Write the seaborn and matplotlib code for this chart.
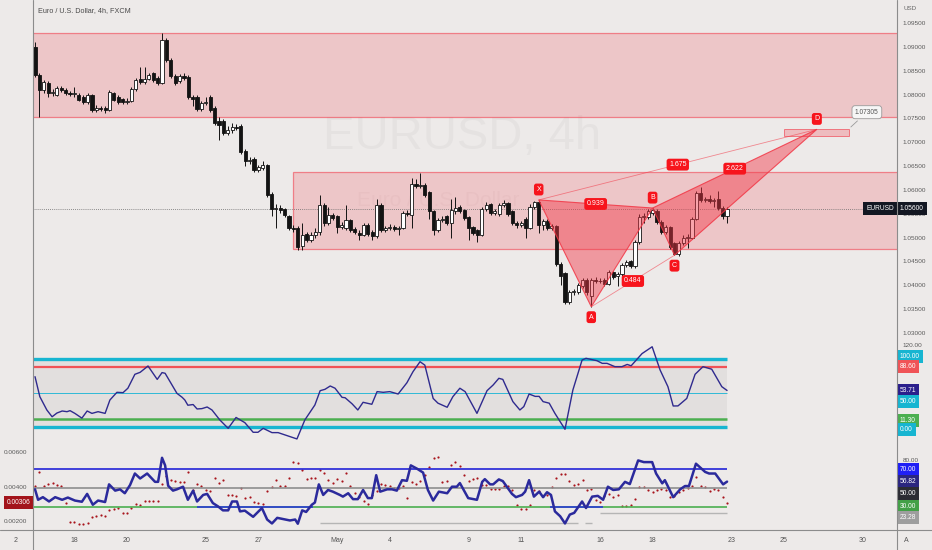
import numpy as np
import seaborn as sns
import matplotlib.pyplot as plt
from matplotlib.patches import Rectangle, Polygon
from matplotlib.lines import Line2D
from matplotlib.ticker import FormatStrFormatter

# EURUSD 4h candles, bar by bar
opens = [1.0900, 1.0841, 1.0810, 1.0824, 1.0803, 1.0800, 1.0814, 1.0810, 1.0803, 1.0801,
         1.0800, 1.0795, 1.0784, 1.0799, 1.0768, 1.0772, 1.0772, 1.0768, 1.0803, 1.0795,
         1.0790, 1.0784, 1.0787, 1.0812, 1.0832, 1.0826, 1.0833, 1.0845, 1.0834, 1.0824,
         1.0914, 1.0872, 1.0838, 1.0828, 1.0838, 1.0836, 1.0795, 1.0795, 1.0770, 1.0782,
         1.0795, 1.0772, 1.0745, 1.0745, 1.0720, 1.0725, 1.0732, 1.0735, 1.0682, 1.0660,
         1.0665, 1.0642, 1.0645, 1.0652, 1.0592, 1.0560, 1.0562, 1.0560, 1.0545, 1.0520,
         1.0520, 1.0482, 1.0508, 1.0494, 1.0505, 1.0512, 1.0568, 1.0530, 1.0548, 1.0545,
         1.0522, 1.0520, 1.0537, 1.0518, 1.0510, 1.0506, 1.0526, 1.0512, 1.0503, 1.0568,
         1.0516, 1.0520, 1.0522, 1.0518, 1.0520, 1.0552, 1.0548, 1.0612, 1.0608, 1.0610,
         1.0595, 1.0555, 1.0516, 1.0537, 1.0545, 1.0530, 1.0555, 1.0565, 1.0558, 1.0543,
         1.0522, 1.0515, 1.0506, 1.0560, 1.0570, 1.0552, 1.0550, 1.0568, 1.0572, 1.0555,
         1.0530, 1.0526, 1.0540, 1.0520, 1.0565, 1.0574, 1.0527, 1.0535, 1.0520, 1.0524,
         1.0445, 1.0425, 1.0365, 1.0385, 1.0386, 1.0398, 1.0412, 1.0378, 1.0411, 1.0408,
         1.0412, 1.0402, 1.0428, 1.0420, 1.0424, 1.0442, 1.0450, 1.0440, 1.0490, 1.0543,
         1.0543, 1.0552, 1.0556, 1.0533, 1.0512, 1.0522, 1.0488, 1.0465, 1.0488, 1.0500,
         1.0500, 1.0540, 1.0593, 1.0579, 1.0580, 1.0577, 1.0580, 1.0562, 1.0546]
closes = [1.0841, 1.0810, 1.0826, 1.0803, 1.0806, 1.0814, 1.0810, 1.0803, 1.0801, 1.0803,
          1.0789, 1.0784, 1.0799, 1.0768, 1.0772, 1.0770, 1.0768, 1.0805, 1.0789, 1.0784,
          1.0784, 1.0787, 1.0812, 1.0830, 1.0826, 1.0833, 1.0841, 1.0830, 1.0824, 1.0914,
          1.0872, 1.0838, 1.0825, 1.0838, 1.0834, 1.0795, 1.0790, 1.0770, 1.0782, 1.0785,
          1.0768, 1.0740, 1.0737, 1.0720, 1.0725, 1.0732, 1.0730, 1.0680, 1.0660, 1.0663,
          1.0642, 1.0647, 1.0652, 1.0590, 1.0560, 1.0562, 1.0558, 1.0547, 1.0520, 1.0518,
          1.0480, 1.0505, 1.0494, 1.0506, 1.0512, 1.0568, 1.0530, 1.0548, 1.0541, 1.0522,
          1.0526, 1.0537, 1.0516, 1.0512, 1.0506, 1.0526, 1.0508, 1.0503, 1.0568, 1.0516,
          1.0520, 1.0522, 1.0518, 1.0520, 1.0552, 1.0550, 1.0612, 1.0608, 1.0610, 1.0590,
          1.0555, 1.0516, 1.0537, 1.0540, 1.0530, 1.0558, 1.0562, 1.0555, 1.0541, 1.0520,
          1.0510, 1.0506, 1.0560, 1.0568, 1.0552, 1.0555, 1.0568, 1.0572, 1.0550, 1.0530,
          1.0526, 1.0530, 1.0520, 1.0565, 1.0574, 1.0527, 1.0535, 1.0520, 1.0524, 1.0445,
          1.0420, 1.0365, 1.0385, 1.0388, 1.0400, 1.0412, 1.0385, 1.0411, 1.0408, 1.0410,
          1.0402, 1.0428, 1.0418, 1.0424, 1.0442, 1.0448, 1.0440, 1.0490, 1.0543, 1.0545,
          1.0556, 1.0558, 1.0533, 1.0512, 1.0522, 1.0480, 1.0465, 1.0488, 1.0500, 1.0502,
          1.0540, 1.0593, 1.0579, 1.0580, 1.0577, 1.0578, 1.0562, 1.0546, 1.0560]
highs = [1.0910, 1.0845, 1.0830, 1.0828, 1.0812, 1.0818, 1.0818, 1.0813, 1.0808, 1.0815,
         1.0804, 1.0800, 1.0803, 1.0801, 1.0778, 1.0776, 1.0776, 1.0809, 1.0806, 1.0800,
         1.0793, 1.0792, 1.0816, 1.0835, 1.0858, 1.0857, 1.0846, 1.0848, 1.0838, 1.0929,
         1.0918, 1.0876, 1.0842, 1.0842, 1.0845, 1.0840, 1.0800, 1.0798, 1.0786, 1.0795,
         1.0798, 1.0775, 1.0752, 1.0748, 1.0735, 1.0740, 1.0738, 1.0738, 1.0685, 1.0668,
         1.0668, 1.0652, 1.0660, 1.0655, 1.0595, 1.0570, 1.0568, 1.0563, 1.0548, 1.0526,
         1.0525, 1.0530, 1.0512, 1.0512, 1.0520, 1.0590, 1.0572, 1.0565, 1.0552, 1.0548,
         1.0532, 1.0568, 1.0540, 1.0522, 1.0515, 1.0530, 1.0530, 1.0515, 1.0580, 1.0572,
         1.0525, 1.0528, 1.0526, 1.0524, 1.0556, 1.0558, 1.0625, 1.0622, 1.0635, 1.0614,
         1.0598, 1.0558, 1.0541, 1.0546, 1.0548, 1.0580, 1.0585, 1.0568, 1.0561, 1.0546,
         1.0525, 1.0518, 1.0564, 1.0574, 1.0573, 1.0560, 1.0572, 1.0578, 1.0575, 1.0558,
         1.0534, 1.0535, 1.0544, 1.0570, 1.0577, 1.0579, 1.0540, 1.0538, 1.0528, 1.0527,
         1.0448, 1.0428, 1.0390, 1.0393, 1.0404, 1.0416, 1.0415, 1.0415, 1.0418, 1.0416,
         1.0415, 1.0432, 1.0430, 1.0428, 1.0446, 1.0452, 1.0453, 1.0494, 1.0550, 1.0552,
         1.0560, 1.0562, 1.0559, 1.0536, 1.0527, 1.0525, 1.0490, 1.0492, 1.0505, 1.0507,
         1.0544, 1.0597, 1.0607, 1.0586, 1.0590, 1.0584, 1.0598, 1.0566, 1.0564]
lows = [1.0836, 1.0753, 1.0804, 1.0795, 1.0797, 1.0796, 1.0805, 1.0798, 1.0797, 1.0795,
        1.0786, 1.0780, 1.0780, 1.0764, 1.0764, 1.0765, 1.0762, 1.0766, 1.0786, 1.0781,
        1.0780, 1.0780, 1.0785, 1.0808, 1.0822, 1.0822, 1.0830, 1.0826, 1.0820, 1.0822,
        1.0868, 1.0835, 1.0821, 1.0824, 1.0830, 1.0790, 1.0775, 1.0765, 1.0766, 1.0778,
        1.0764, 1.0736, 1.0705, 1.0715, 1.0715, 1.0720, 1.0725, 1.0676, 1.0650, 1.0655,
        1.0638, 1.0638, 1.0642, 1.0586, 1.0545, 1.0520, 1.0552, 1.0543, 1.0515, 1.0512,
        1.0475, 1.0475, 1.0490, 1.0490, 1.0500, 1.0505, 1.0525, 1.0526, 1.0536, 1.0510,
        1.0518, 1.0516, 1.0512, 1.0508, 1.0495, 1.0503, 1.0504, 1.0495, 1.0500, 1.0512,
        1.0512, 1.0515, 1.0514, 1.0506, 1.0517, 1.0545, 1.0520, 1.0603, 1.0603, 1.0585,
        1.0540, 1.0505, 1.0512, 1.0532, 1.0526, 1.0500, 1.0550, 1.0551, 1.0537, 1.0495,
        1.0506, 1.0490, 1.0503, 1.0556, 1.0548, 1.0548, 1.0546, 1.0564, 1.0546, 1.0526,
        1.0521, 1.0522, 1.0500, 1.0517, 1.0560, 1.0510, 1.0515, 1.0516, 1.0515, 1.0440,
        1.0400, 1.0360, 1.0360, 1.0380, 1.0382, 1.0395, 1.0380, 1.0355, 1.0404, 1.0404,
        1.0398, 1.0400, 1.0414, 1.0398, 1.0420, 1.0438, 1.0436, 1.0437, 1.0487, 1.0530,
        1.0538, 1.0548, 1.0528, 1.0508, 1.0508, 1.0476, 1.0463, 1.0462, 1.0484, 1.0478,
        1.0497, 1.0537, 1.0575, 1.0574, 1.0572, 1.0565, 1.0558, 1.0540, 1.0530]

# supply / demand zones (price bands)
zone_upper = [1.0753, 1.0929]
zone_lower = [1.0476, 1.0638]
zone_lower_start = 58.9

# XABCD harmonic pattern
pattern_names = ['X', 'A', 'B', 'C', 'D']
pattern_x = [115, 127, 141, 146, 178.5]
pattern_y = [1.0579, 1.0355, 1.0562, 1.0463, 1.0727]
pattern_side = [1, -1, 1, -1, 1]
ratio_legs = [(0, 2), (1, 3), (0, 4), (2, 4)]
ratio_text = ['0.939', '0.484', '1.675', '2.622']
d_zone = [171, 185.8, 1.0713, 1.0728]
d_target = '1.07305'
last_price = 1.056

# upper oscillator pane
osc_x = [0, 1.1, 2.7, 3.9, 5, 6.2, 7.3, 8, 9.1, 10.7,
         11.9, 13, 14.4, 16, 17.1, 18.7, 20.1, 21.2, 22.8, 24,
         25.8, 27.9, 29, 29.7, 32.4, 33.6, 34.2, 34.9, 36.1, 37,
         38.1, 39.3, 40.4, 42.2, 44.1, 45.9, 47.9, 49.8, 50.9, 52.1,
         54.1, 55.5, 59.8, 61.6, 63.9, 65.1, 66.2, 67.4, 68.5, 70.1,
         70.8, 72.4, 73.7, 74.9, 76.9, 78.1, 79.5, 81, 82.9, 84.9,
         86.3, 87.9, 89, 90.9, 92, 94.1, 95.4, 97, 98.2, 100.9,
         103.2, 104.6, 105.9, 106.8, 109.1, 110.7, 111.6, 112.8, 114.2, 115.1,
         116, 117.4, 118.7, 119.9, 121, 122.8, 124.9, 125.8, 128.3, 129.5,
         130.6, 132.4, 134, 135.2, 136.1, 138.6, 140.9, 142.7, 144.5, 145.7,
         146.8, 148.8, 150.7, 152.5, 154.5, 156.8, 158]
osc_y = [74, 44.6, 25, 15, 20.5, 23.5, 22.5, 24, 20, 13,
         23.5, 20, 22.5, 20, 39.7, 51, 50.5, 57, 77.5, 80.4,
         89.7, 70, 80, 79, 49.5, 43.6, 39.7, 32, 33, 26.5,
         27, 29.4, 25, 10.3, -2, 14, 6.4, -7.8, -7.8, -2,
         -8.3, -8.3, -17.6, 10.3, 32.4, 53.4, 55.4, 60.3, 57, 43.6,
         43, 34, 25, 36.3, 33.4, 52, 51, 52, 48.5, 65,
         81.4, 96, 91, 42, 35, 29, 44.6, 57, 52, 20,
         53.4, 61.8, 71.6, 70, 37.3, 25, 30, 48.5, 45, 45,
         37.3, 35, 20, 7.8, -3.4, 54.4, 98.5, 101, 97.5, 93.6,
         93.6, 88.7, 88.7, 92, 90, 108, 118, 84, 59.3, 30.9,
         31, 42, 77.5, 88.7, 85, 59.3, 53.71]
osc_levels = [100, 88.6, 50, 11.3, 0]
osc_colors = ['#17b5d1', '#f05357', '#2fb9d6', '#4caf50', '#17b5d1']
osc_widths = [2.4, 1.6, 0.7, 1.8, 2.4]

# lower pane: RSI line (right scale) and red dots (left scale)
rsi_x = [0, 0.7, 1.8, 3.2, 4.6, 6.2, 7.5, 9.1, 10.7, 11.9,
         13.2, 14.4, 16, 16.9, 18.3, 19.4, 20.5, 21.7, 22.8, 24,
         25.6, 27.4, 28.1, 29, 29.7, 30.4, 31.5, 32.4, 33.8, 34.9,
         36.1, 37, 38.4, 39.3, 40.6, 41.8, 42.9, 44.1, 45, 46.1,
         46.8, 47.9, 49.8, 51.8, 53, 54.1, 55.3, 57.1, 58.2, 59.4,
         60, 61, 61.9, 63.2, 63.9, 64.8, 65.8, 66.9, 68, 69.6,
         70.3, 71.5, 72.6, 73.7, 74.9, 76, 76.9, 77.9, 78.8, 80.4,
         81.5, 82.6, 83.8, 84.9, 85.8, 87.2, 88.6, 89.7, 90.9, 92.2,
         94.1, 95.2, 96.3, 97, 98.9, 100.9, 102.1, 102.7, 103.9, 104.6,
         105.9, 106.8, 108.9, 109.8, 111.2, 111.9, 112.8, 113.9, 115.1, 116,
         116.9, 117.8, 118.7, 119.9, 121, 122.1, 123.1, 124.9, 125.8, 127.2,
         128.5, 129.7, 130.8, 132, 133.3, 134.7, 135.8, 137.7, 139, 140.9,
         141.8, 143.2, 143.8, 145.7, 147.3, 148.4, 149.3, 150.9, 153, 153.9,
         155.3, 157.1, 158]
rsi_y = [48.6, 37.4, 40.2, 35.6, 40.2, 37.4, 39.8, 36.6, 35.3, 43.7,
         32.1, 36.6, 35, 53.9, 47.2, 48.6, 44.4, 53.2, 65.5, 60.2,
         65.5, 56.6, 56.6, 82.3, 74.2, 52.4, 47.2, 48.6, 51.4, 37.4,
         47.2, 35.6, 42.6, 43.7, 33.9, 30.3, 26.1, 26.1, 35.6, 35.6,
         25, 25.8, 19.2, 28.6, 16.3, 12.1, 18.1, 16.3, 15.3, 16.3,
         11.8, 26.1, 24.4, 32.1, 34.5, 53.9, 42.6, 47.9, 46.1, 42.6,
         40.8, 44.4, 38.1, 38.1, 47.9, 39.2, 39.2, 63.7, 46.1, 48.6,
         48.6, 47.2, 58.4, 57.7, 74.2, 70.7, 66.5, 47.9, 36.6, 46.1,
         44.4, 51.4, 51.4, 55.3, 39.2, 37.4, 56.6, 59.5, 53.9, 53.9,
         59.2, 57.4, 43.7, 40.2, 42.6, 46.1, 58.4, 40.8, 46.1, 40.2,
         45.5, 42.6, 25, 19.8, 12.1, 21.6, 23.4, 35.6, 28.6, 40.8,
         41.6, 37.4, 51.4, 47.9, 48.6, 56.6, 54.2, 79.5, 77.7, 77.7,
         65.5, 55, 58.4, 40.2, 48.6, 52.1, 52.1, 76, 67.2, 65.5,
         65.5, 53.9, 56.82]
dots = [0.00402, 0.00486, 0.00402, 0.00418, 0.00422, 0.00408, 0.00402, 0.00304, 0.00192, 0.00196,
        0.00181, 0.00184, 0.00187, 0.00222, 0.00231, 0.00235, 0.00229, 0.00265, 0.00271, 0.00275,
        0.00249, 0.00249, 0.00275, 0.00298, 0.00294, 0.00319, 0.00314, 0.00317, 0.00317, 0.00418,
        0.00461, 0.00437, 0.00431, 0.00425, 0.00425, 0.00484, 0.00378, 0.00418, 0.00405, 0.00378,
        0.00372, 0.00451, 0.00422, 0.00437, 0.00353, 0.00353, 0.00347, 0.00392, 0.00334, 0.00340,
        0.00310, 0.00304, 0.00298, 0.00372, 0.00398, 0.00437, 0.00402, 0.00402, 0.00451, 0.00543,
        0.00539, 0.00500, 0.00447, 0.00451, 0.00451, 0.00496, 0.00481, 0.00437, 0.00422, 0.00447,
        0.00431, 0.00481, 0.00402, 0.00363, 0.00340, 0.00314, 0.00298, 0.00349, 0.00372, 0.00418,
        0.00412, 0.00402, 0.00392, 0.00395, 0.00402, 0.00334, 0.00425, 0.00418, 0.00435, 0.00470,
        0.00516, 0.00569, 0.00575, 0.00425, 0.00431, 0.00529, 0.00543, 0.00519, 0.00471, 0.00431,
        0.00445, 0.00451, 0.00408, 0.00408, 0.00386, 0.00386, 0.00386, 0.00406, 0.00402, 0.00382,
        0.00294, 0.00271, 0.00271, 0.00294, 0.00382, 0.00372, 0.00347, 0.00349, 0.00400, 0.00451,
        0.00476, 0.00475, 0.00431, 0.00408, 0.00416, 0.00441, 0.00378, 0.00386, 0.00324, 0.00310,
        0.00347, 0.00359, 0.00340, 0.00353, 0.00290, 0.00290, 0.00294, 0.00328, 0.00396, 0.00396,
        0.00378, 0.00369, 0.00378, 0.00386, 0.00378, 0.00340, 0.00343, 0.00367, 0.00382, 0.00392,
        0.00402, 0.00457, 0.00406, 0.00396, 0.00372, 0.00386, 0.00378, 0.00340, 0.00306]
rsi_levels = [70, 50, 30]
rsi_colors = ['#2323d8', '#8e8e8e', '#4caf50']
blue_30_segments = [(37, 63.5), (117.6, 129.7)]
gray_low_segments = [(65, 124, 12.1), (125.6, 127.2, 12.1), (129, 158, 23.28)]

# time axis (bar index -> date label)
date_ticks = [9, 21, 39, 51, 69, 81, 99, 111, 129, 141, 159, 171, 189]
date_labels = ['18', '20', '25', '27', 'May', '4', '9', '11', '16', '18', '23', '25', '30']

bg = '#edeae9'
red = '#f23645'
sns.set_style('white', {'axes.facecolor': bg, 'figure.facecolor': bg})
plt.rcParams['font.family'] = ['Liberation Sans', 'DejaVu Sans']

fig = plt.figure(figsize=(9.32, 5.5), dpi=100)


def pane(top, bottom):
    return [33 / 932, 1 - bottom / 550, 864 / 932, (bottom - top) / 550]


ax = fig.add_axes(pane(0, 345))
osc = fig.add_axes(pane(345, 442), sharex=ax)
vol = fig.add_axes(pane(442, 530), sharex=ax)
rsi = vol.twinx()
ax.set_xlim(-0.46, 196.8)


def tag(axis, y, text, fc, dy=0, tc='white', left=False):
    axis.annotate(text, xy=(0 if left else 1, y), xycoords=('axes fraction', 'data'),
                  xytext=(-1.5 if left else 2, dy), textcoords='offset points',
                  ha='right' if left else 'left', va='center', fontsize=4.8, color=tc,
                  bbox=dict(boxstyle='square,pad=0.45', fc=fc, ec='none'),
                  annotation_clip=False, zorder=10)


# ---------- main price pane ----------
ax.set_ylim(1.02748, 1.09982)
ax.text(0.336, 0.603, 'EURUSD, 4h', transform=ax.transAxes, fontsize=34,
        color=(0.5, 0.5, 0.5, 0.07), ha='left', va='center', zorder=0.5)
ax.text(0.375, 0.42, 'Euro / U.S. Dollar', transform=ax.transAxes, fontsize=15,
        color=(0.5, 0.5, 0.5, 0.06), ha='left', va='center', zorder=0.5)

zone_fc = (0.95, 0.21, 0.27, 0.2)
zone_ec = (0.95, 0.21, 0.27, 0.55)
ax.add_patch(Rectangle((-5, zone_upper[0]), 210, zone_upper[1] - zone_upper[0],
                       fc=zone_fc, ec=zone_ec, lw=0.9, zorder=1))
ax.add_patch(Rectangle((zone_lower_start, zone_lower[0]), 210 - zone_lower_start,
                       zone_lower[1] - zone_lower[0], fc=zone_fc, ec=zone_ec, lw=0.9, zorder=1))

ax.axhline(last_price, ls=(0, (1, 1.5)), color='#6a6a6a', lw=0.6, zorder=2)

idx = np.arange(len(closes))
o = np.array(opens)
c = np.array(closes)
ax.vlines(idx, lows, highs, color='#131313', lw=0.7, zorder=3)
ax.bar(idx, c - o, bottom=o, width=0.72, color=np.where(c >= o, '#ffffff', '#131313'),
       edgecolor='#131313', linewidth=0.6, zorder=4)

px = np.array(pattern_x)
py = np.array(pattern_y)
for tri in ([0, 1, 2], [2, 3, 4]):
    ax.add_patch(Polygon(np.column_stack([px[tri], py[tri]]), closed=True,
                         fc=(0.95, 0.21, 0.27, 0.45), ec=(0.95, 0.21, 0.27, 0.85),
                         lw=0.8, zorder=5))
for a, b in [(0, 4), (1, 3)]:
    ax.plot(px[[a, b]], py[[a, b]], color=red, lw=0.6, alpha=0.55, zorder=5)

ax.add_patch(Rectangle((d_zone[0], d_zone[2]), d_zone[1] - d_zone[0], d_zone[3] - d_zone[2],
                       fc=(0.95, 0.21, 0.27, 0.25), ec=(0.95, 0.21, 0.27, 0.6), lw=0.7, zorder=5))
ax.annotate(d_target, xy=(d_zone[1], d_zone[3]), xytext=(13, 12), textcoords='offset points',
            ha='center', va='center', fontsize=4.8, color='#555555', zorder=8,
            bbox=dict(boxstyle='round,pad=0.45', fc='#f6f6f6', ec='#9a9a9a', lw=0.6),
            arrowprops=dict(arrowstyle='-', color='#9a9a9a', lw=0.6))

label_box = dict(boxstyle='round,pad=0.35', fc='#f7141c', ec='none')
for name, x, y, side in zip(pattern_names, pattern_x, pattern_y, pattern_side):
    ax.annotate(name, (x, y), xytext=(0, 7.5 * side), textcoords='offset points',
                ha='center', va='center', fontsize=5, color='white', zorder=7, bbox=label_box)
for (a, b), txt in zip(ratio_legs, ratio_text):
    ax.text((px[a] + px[b]) / 2, (py[a] + py[b]) / 2, txt, ha='center', va='center',
            fontsize=5, color='white', zorder=7, bbox=label_box)

ax.yaxis.tick_right()
ax.set_yticks(np.arange(1.030, 1.0951, 0.005))
ax.yaxis.set_major_formatter(FormatStrFormatter('%.5f'))
ax.tick_params(axis='y', length=0, pad=4, labelsize=4.6, labelcolor='#5a5a5a')
ax.tick_params(axis='x', labelbottom=False, length=0)
tag(ax, last_price, '1.05600', '#131722')
ax.annotate('EURUSD', xy=(1, last_price), xycoords=('axes fraction', 'data'),
            xytext=(-2, 0), textcoords='offset points', ha='right', va='center',
            fontsize=4.8, color='white', zorder=10,
            bbox=dict(boxstyle='square,pad=0.45', fc='#131722', ec='none'))

# ---------- oscillator pane ----------
osc.set_ylim(-22.1, 120.6)
osc.fill_between([-0.46, idx[-1]], 0, 100, color='#e2dfde', lw=0, zorder=0)
for lvl, col, lw in zip(osc_levels, osc_colors, osc_widths):
    osc.hlines(lvl, -0.46, idx[-1], color=col, lw=lw, zorder=2)
sns.lineplot(x=osc_x, y=osc_y, ax=osc, color='#2f2a8e', lw=1.0, estimator=None,
             sort=False, zorder=3)
osc.yaxis.tick_right()
osc.set_yticks([120])
osc.set_yticklabels(['120.00'])
osc.tick_params(axis='y', length=0, pad=4, labelsize=4.6, labelcolor='#5a5a5a')
osc.tick_params(axis='x', labelbottom=False, length=0)
tag(osc, 100, '100.00', '#17b5d1', dy=2)
tag(osc, 88.6, '88.60', '#f05357')
tag(osc, osc_y[-1], '53.71', '#2b1f8c')
tag(osc, 50, '50.00', '#17b5d1', dy=-6)
tag(osc, 11.3, '11.30', '#4caf50', dy=-1)
tag(osc, 0, '0.00', '#17b5d1', dy=-2)

# ---------- lower pane ----------
vol.set_ylim(0.001468, 0.006614)
sns.scatterplot(x=idx, y=dots, ax=vol, color='#a8141c', s=2.5, linewidth=0, zorder=3)
vol.set_yticks([0.002, 0.004, 0.006])
vol.yaxis.set_major_formatter(FormatStrFormatter('%.5f'))
vol.tick_params(axis='y', length=0, pad=4, labelsize=4.6, labelcolor='#5a5a5a')
tag(vol, dots[-1], '0.00306', '#a3141b', left=True)

rsi.set_ylim(5.1, 99.2)
for lvl, col in zip(rsi_levels, rsi_colors):
    rsi.hlines(lvl, -0.46, idx[-1], color=col, lw=1.2, zorder=2)
for x0, x1 in blue_30_segments:
    rsi.hlines(30, x0, x1, color='#2b3bd6', lw=1.2, zorder=2)
for x0, x1, lvl in gray_low_segments:
    rsi.hlines(lvl, x0, x1, color='#b5b5b5', lw=1.0, zorder=2)
sns.lineplot(x=rsi_x, y=rsi_y, ax=rsi, color='#2b2a9c', lw=1.8, estimator=None,
             sort=False, zorder=4)
rsi.set_yticks([80])
rsi.set_yticklabels(['80.00'])
rsi.tick_params(axis='y', length=0, pad=4, labelsize=4.6, labelcolor='#5a5a5a')
tag(rsi, 70, '70.00', '#1f1ff5')
tag(rsi, rsi_y[-1], '56.82', '#2b2680')
tag(rsi, 50, '50.00', '#2c2c34', dy=-3.6)
tag(rsi, 30, '30.00', '#43a047')
tag(rsi, 23.28, '23.28', '#9e9e9e', dy=-3)

vol.set_xticks(date_ticks)
vol.set_xticklabels(date_labels)
vol.tick_params(axis='x', length=0, pad=5, labelsize=5, labelcolor='#555555')

for a in (ax, osc, vol, rsi):
    a.set_xlabel('')
    a.set_ylabel('')
    for s in a.spines.values():
        s.set_visible(False)

for xp in (33, 897):
    fig.add_artist(Line2D([xp / 932] * 2, [0, 1], color='#8c8c8c', lw=0.8))
fig.add_artist(Line2D([0, 1], [20 / 550] * 2, color='#8c8c8c', lw=0.8))

fig.text(38 / 932, 1 - 11 / 550, 'Euro / U.S. Dollar, 4h, FXCM', fontsize=5.2,
         color='#4a4a4a', va='center')
fig.text(903 / 932, 1 - 8 / 550, 'USD', fontsize=4.5, color='#666666', va='center')
fig.text(16 / 932, 1 - 540 / 550, '2', fontsize=5, color='#555555', ha='center', va='center')
fig.text(906 / 932, 1 - 540 / 550, 'A', fontsize=5, color='#555555', ha='center', va='center')

fig.savefig('out.png', dpi=100)
